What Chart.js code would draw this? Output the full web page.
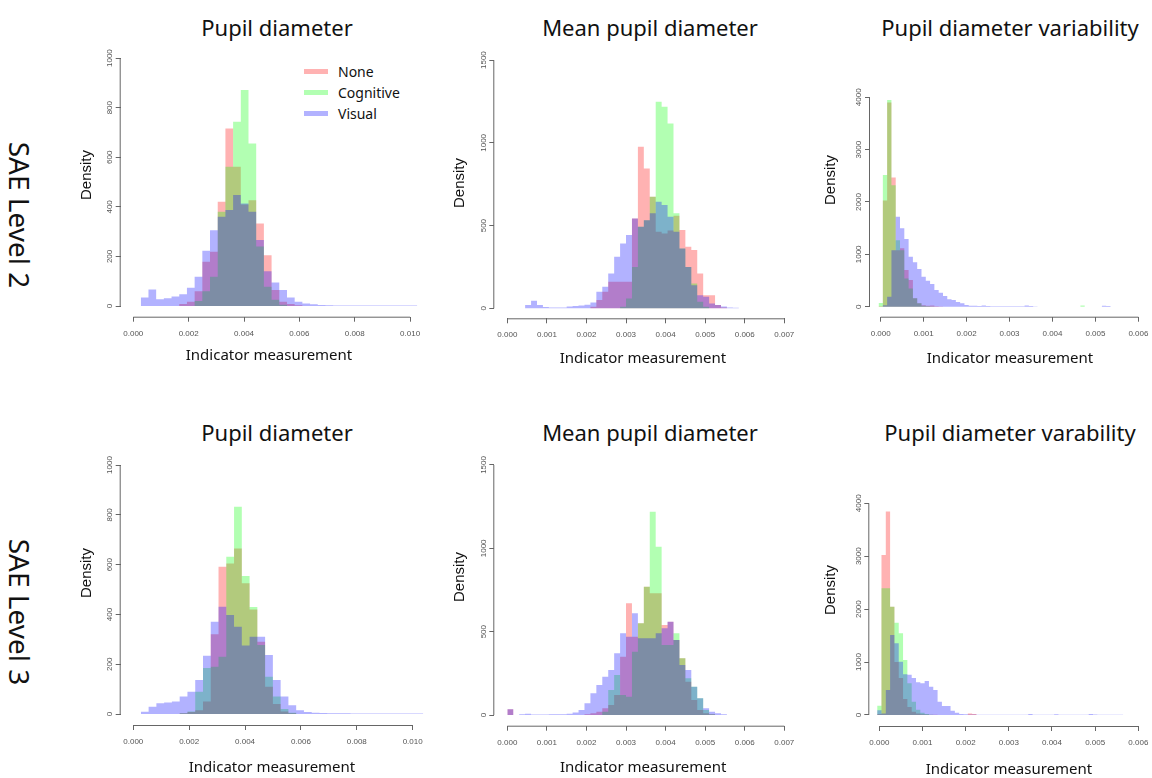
<!DOCTYPE html>
<html>
<head>
<meta charset="utf-8">
<script src="https://cdn.jsdelivr.net/npm/chart.js@4.4.1/dist/chart.umd.min.js"></script>
<style>
  html, body { margin: 0; padding: 0; background: #fff; overflow: hidden; }
  body { width: 1152px; height: 778px; position: relative; font-family: 'Noto Sans', sans-serif; color: #111; }
  .ttl { position: absolute; transform: translate(-50%, -50%); white-space: nowrap; font-size: 22px; }
  .row { position: absolute; transform: translate(-50%, -50%) rotate(90deg); white-space: nowrap; font-size: 28px; }
  .leg { position: absolute; left: 304px; top: 61px; font-size: 14px; line-height: 21px; }
  .leg div { display: flex; align-items: center; height: 21px; }
  .leg span { display: inline-block; width: 24px; height: 5px; margin-right: 10px; }
</style>
</head>
<body>
<div class="row" style="left:20px;top:215px">SAE Level 2</div>
<div class="row" style="left:20px;top:612px">SAE Level 3</div>
<div class="ttl" style="left:277px;top:27px">Pupil diameter</div>
<div class="ttl" style="left:650px;top:27px">Mean pupil diameter</div>
<div class="ttl" style="left:1010px;top:27px">Pupil diameter variability</div>
<div class="ttl" style="left:277px;top:432px">Pupil diameter</div>
<div class="ttl" style="left:650px;top:432px">Mean pupil diameter</div>
<div class="ttl" style="left:1010px;top:432px">Pupil diameter varability</div>
<div class="leg" id="legend"></div>
<script>
Chart.defaults.font.family = 'Liberation Sans';

const seriesNames = ['None', 'Cognitive', 'Visual'];
const seriesColors = ['rgba(255,0,0,0.3)', 'rgba(0,255,0,0.3)', 'rgba(0,0,255,0.3)'];

// tick labels
const pdTicksX = [0, 0.002, 0.004, 0.006, 0.008, 0.010];
const pdTicksY = [0, 200, 400, 600, 800, 1000];
const mpdTicksX = [0, 0.001, 0.002, 0.003, 0.004, 0.005, 0.006, 0.007];
const mpdTicksY = [0, 500, 1000, 1500];
const pdvTicksX = [0, 0.001, 0.002, 0.003, 0.004, 0.005, 0.006];
const pdvTicksY = [0, 1000, 2000, 3000, 4000];

// histogram bins: first edge and bin width
const pdStart = 0.00027, pdWidth = 0.000278;
const mpdStart = 0, mpdWidth = 0.00015;
const pdvStart = -0.00005, pdvWidth = 0.0001;

// SAE Level 2 - pupil diameter
const pd2None = [0,0,0,0,0, 8,17,60,179,219, 421,716,562,410,427, 333,205,65,17,8, 3,0,0,0,0, 0,0,0,0,0, 0,0,0,0,0, 0,0];
const pd2Cog  = [0,0,0,0,0, 0,0,20,60,118, 380,562,743,871,656, 240,78,25,5,0, 0,0,0,0,0, 0,0,0,0,0, 0,0,0,0,0, 0,0];
const pd2Vis  = [34,67,27,31,38, 48,74,118,223,306, 360,387,448,414,380, 266,140,95,65,34, 17,10,7,4,3, 2,2,2,2,2, 2,2,2,2,2, 2,2];

// SAE Level 2 - mean pupil diameter
const mpd2None = [0,0,0,0,0, 0,0,0,0,0, 0,0,0,0,10, 50,100,161,161,161, 161,543,976,845,674, 463,453,470,560,473, 372,352,211,80,80, 20,5,0,0,0, 0,0];
const mpd2Cog  = [0,0,0,0,0, 0,0,0,0,0, 0,0,0,0,0, 0,0,0,0,10, 60,250,493,533,674, 1248,1218,1117,574,362, 250,150,40,10,0, 0,0,0,0,0, 0,0];
const mpd2Vis  = [0,0,0,20,46, 20,8,6,5,6, 12,15,18,22,35, 100,130,211,312,392, 443,543,493,533,574, 644,624,553,463,362, 250,140,80,70,30, 20,12,6,3,0, 0,0];

// SAE Level 2 - pupil diameter variability
const pdv2None = [10,2030,3900,2470,1080, 1115,700,510,160,64, 30,20,25,10,5, 0,0,0,0,0, 0,0,0,0,0, 0,0,0,0,0, 0,0,0,0,0, 0,0,0,0,0, 0,0,0,0,0, 0,0,0,0,0, 0,0,0,0,0, 0,0];
const pdv2Cog  = [70,2515,3950,2320,1270, 1080,540,350,160,64, 20,10,5,0,0, 0,0,0,0,0, 0,0,0,0,0, 0,0,0,0,0, 0,0,0,0,0, 0,0,0,0,0, 0,0,0,0,0, 0,0,25,0,0, 0,0,0,0,0, 0,0];
const pdv2Vis  = [0,30,190,1080,1720, 1497,1293,955,847,720, 573,497,433,318,267, 204,140,127,89,64, 32,20,20,15,25, 15,10,10,10,10, 8,8,10,10,25, 15,5,0,0,0, 0,0,0,0,0, 0,0,0,0,0, 0,0,20,15,0, 0,0];

// SAE Level 3 - pupil diameter
const pd3None = [0,0,0,0,0, 3,8,15,50,320, 592,605,665,525,420, 290,110,40,10,3, 0,0,0,0,0, 0,0,0,0,0, 0,0,0,0,0, 0,0];
const pd3Cog  = [0,0,0,0,0, 3,10,90,185,190, 230,632,833,554,430, 277,150,70,20,5, 0,0,0,0,0, 0,0,0,0,0, 0,0,0,0,0, 0,0];
const pd3Vis  = [9,29,43,46,50, 70,90,137,234,371, 431,398,351,275,310, 310,237,137,70,35, 15,8,5,4,3, 3,3,2,2,2, 2,2,2,2,2, 2,2];

// SAE Level 3 - mean pupil diameter
const mpd3None = [35,0,0,0,0, 0,0,0,0,0, 0,0,0,5,10, 20,40,60,120,350, 670,470,550,770,730, 730,540,560,450,340, 200,90,30,10,5, 0,0,0,0,0, 0,0];
const mpd3Cog  = [0,0,0,0,0, 0,0,0,0,0, 0,0,0,0,0, 0,20,150,240,120, 110,380,550,770,1220, 1010,420,420,490,340, 220,170,100,30,5, 0,0,0,0,0, 0,0];
const mpd3Vis  = [35,0,5,8,3, 3,3,5,5,5, 8,15,30,70,130, 180,230,270,370,490, 470,610,460,460,460, 490,520,560,450,300, 270,170,100,40,20, 10,5,0,0,0, 0,0];

// SAE Level 3 - pupil diameter variability
const pdv3None = [20,3024,3843,2047,1000, 700,300,150,60,30, 15,10,5,5,0, 0,0,0,0,0, 0,30,20,0,0, 0,0,0,0,0, 0,0,0,0,0, 0,0,0,0,0, 0,0,0,0,0, 0,0,0,0,0, 0,0,0,0,0, 0,0];
const pdv3Cog  = [176,2394,2394,2047,1745, 1544,1040,600,250,100, 40,20,5,0,0, 0,0,0,0,0, 0,0,0,0,0, 0,0,0,0,0, 0,0,0,0,0, 0,0,0,0,0, 0,0,0,0,0, 0,0,0,0,0, 0,0,0,0,0, 0,0];
const pdv3Vis  = [90,30,470,1512,1354, 1008,770,760,700,620, 600,640,535,470,250, 170,170,80,44,20, 15,10,8,5,5, 5,5,5,5,5, 5,5,5,5,5, 20,5,3,3,3, 3,12,3,3,3, 3,3,3,3,20, 10,3,3,3,3, 3,3];

// panel layout: canvas box [left, top, w, h], plot area [left, right, top, bottom] in page px
const panels = [
  { box: [60, 10, 390, 360], area: [120.7, 417.3, 33.3, 316.7], xr: [-0.000455, 0.01026], yr: [-43, 1100],
    densX: 87, measY: 356, start: pdStart, width: pdWidth, series: [pd2None, pd2Cog, pd2Vis], xt: pdTicksX, yt: pdTicksY },
  { box: [430, 10, 380, 360], area: [494.3, 791.7, 47.7, 318.3], xr: [-0.000329, 0.007187], yr: [-60, 1575],
    densX: 460, measY: 359, start: mpdStart, width: mpdWidth, series: [mpd2None, mpd2Cog, mpd2Vis], xt: mpdTicksX, yt: mpdTicksY },
  { box: [800, 10, 370, 360], area: [870, 1150, 43.3, 316.7], xr: [-0.000249, 0.00627], yr: [-191, 5031],
    densX: 831, measY: 359, start: pdvStart, width: pdvWidth, series: [pdv2None, pdv2Cog, pdv2Vis], xt: pdvTicksX, yt: pdvTicksY },
  { box: [60, 400, 390, 378], area: [120.7, 423.3, 421, 725], xr: [-0.000451, 0.01038], yr: [-44, 1177],
    densX: 87, measY: 768, start: pdStart, width: pdWidth, series: [pd3None, pd3Cog, pd3Vis], xt: pdTicksX, yt: pdTicksY },
  { box: [430, 400, 380, 378], area: [494.3, 792, 428.3, 725.7], xr: [-0.000329, 0.007195], yr: [-64, 1720],
    densX: 460, measY: 768, start: mpdStart, width: mpdWidth, series: [mpd3None, mpd3Cog, mpd3Vis], xt: mpdTicksX, yt: mpdTicksY },
  { box: [800, 400, 370, 378], area: [869.3, 1148.7, 454, 726], xr: [-0.000232, 0.00624], yr: [-208, 4931],
    densX: 831, measY: 770, start: pdvStart, width: pdvWidth, series: [pdv3None, pdv3Cog, pdv3Vis], xt: pdvTicksX, yt: pdvTicksY }
];

function steps(start, width, vals) {
  const pts = vals.map((v, i) => ({ x: start + i * width, y: v }));
  pts.push({ x: start + vals.length * width, y: 0 });
  return pts;
}

// R style axes: line only from first to last tick
const rAxes = {
  id: 'rAxes',
  afterDraw(chart) {
    const { ctx, chartArea, scales: { x, y } } = chart;
    const xt = x.ticks, yt = y.ticks;
    ctx.save();
    ctx.strokeStyle = '#666';
    ctx.lineWidth = 1;
    ctx.beginPath();
    ctx.moveTo(x.getPixelForValue(xt[0].value), chartArea.bottom + 0.5);
    ctx.lineTo(x.getPixelForValue(xt[xt.length - 1].value), chartArea.bottom + 0.5);
    ctx.moveTo(chartArea.left - 0.5, y.getPixelForValue(yt[0].value));
    ctx.lineTo(chartArea.left - 0.5, y.getPixelForValue(yt[yt.length - 1].value));
    ctx.stroke();
    ctx.restore();
  }
};

function makeChart(p) {
  const [cl, ct, cw, ch] = p.box;
  const [al, ar, at, ab] = p.area;
  const cv = document.createElement('canvas');
  cv.width = cw; cv.height = ch;
  cv.style.cssText = `position:absolute;left:${cl}px;top:${ct}px;width:${cw}px;height:${ch}px`;
  document.body.appendChild(cv);

  new Chart(cv, {
    type: 'line',
    data: {
      datasets: p.series.map((vals, i) => ({
        label: seriesNames[i],
        data: steps(p.start, p.width, vals),
        stepped: true,
        fill: 'origin',
        backgroundColor: seriesColors[i],
        borderWidth: 0,
        pointRadius: 0,
        order: 3 - i
      }))
    },
    options: {
      responsive: false,
      animation: false,
      events: [],
      layout: { padding: { left: 0, top: at - ct, right: cl + cw - ar, bottom: 0 } },
      plugins: { legend: { display: false }, tooltip: { enabled: false } },
      scales: {
        x: {
          type: 'linear', min: p.xr[0], max: p.xr[1],
          afterBuildTicks: s => { s.ticks = p.xt.map(v => ({ value: v })); },
          afterFit: s => { s.height = ct + ch - ab; },
          grid: { drawOnChartArea: false, tickLength: 5, color: '#666' },
          border: { display: false },
          ticks: { font: { size: 8 }, color: '#555', padding: 7, maxRotation: 0, autoSkip: false,
                   callback: v => v.toFixed(3) },
          title: { display: true, text: 'Indicator measurement', color: '#111',
                   font: { family: 'Noto Sans', size: 15 },
                   padding: { top: 0, bottom: ct + ch - p.measY - 9 } }
        },
        y: {
          type: 'linear', min: p.yr[0], max: p.yr[1],
          afterBuildTicks: s => { s.ticks = p.yt.map(v => ({ value: v })); },
          afterFit: s => { s.width = al - cl; },
          grid: { drawOnChartArea: false, tickLength: 5, color: '#666' },
          border: { display: false },
          ticks: { font: { size: 8 }, color: '#555', padding: -3, minRotation: 90, maxRotation: 90,
                   crossAlign: 'center', callback: v => String(v) },
          title: { display: true, text: 'Density', color: '#111',
                   font: { size: 15 },
                   padding: { top: p.densX - cl - 9, bottom: 0 } }
        }
      }
    },
    plugins: [rAxes]
  });
}

panels.forEach(makeChart);

// legend (first panel)
const leg = document.getElementById('legend');
seriesNames.forEach((name, i) => {
  const row = document.createElement('div');
  const sw = document.createElement('span');
  sw.style.background = seriesColors[i];
  row.appendChild(sw);
  row.appendChild(document.createTextNode(name));
  leg.appendChild(row);
});
</script>
</body>
</html>
